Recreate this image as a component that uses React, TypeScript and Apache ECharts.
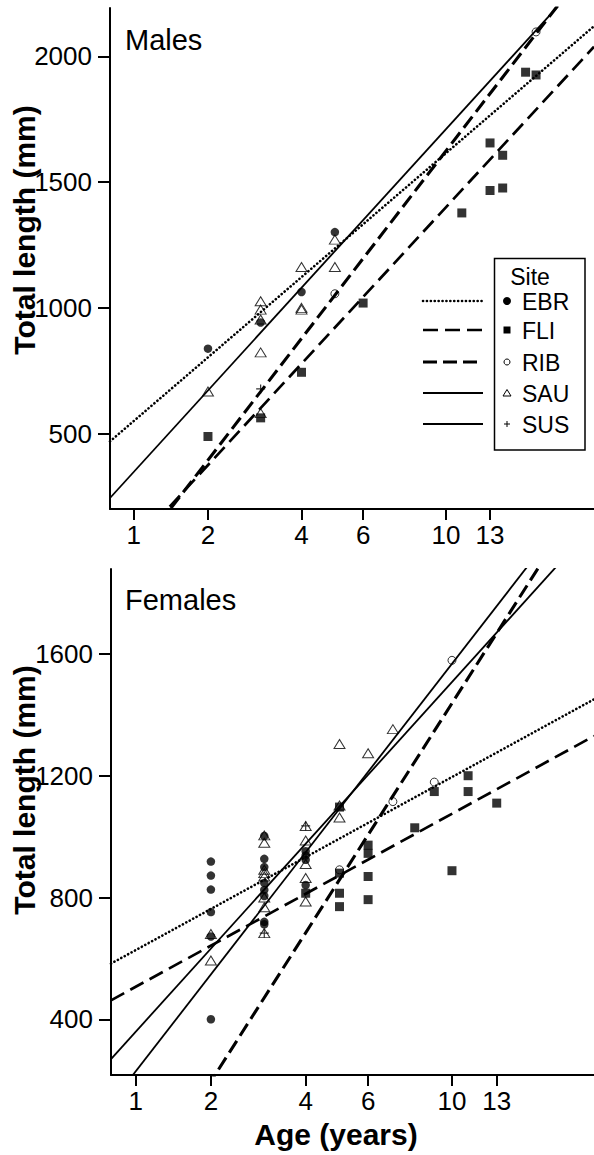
import React, { useEffect, useRef } from "react";
import * as echarts from "echarts";

// ---------- data ----------
const sites = ["EBR", "FLI", "RIB", "SAU", "SUS"];
const tickAges = [1, 2, 4, 6, 10, 13];
const maleYTicks = [500, 1000, 1500, 2000];
const femaleYTicks = [400, 800, 1200, 1600];

// Males: [age (years), total length (mm)]
const maleEBR = [[2, 839], [3, 943], [4, 1064], [5, 1302]];
const maleFLI = [[2, 490], [3, 564], [4, 745], [6, 1020], [11, 1378], [13, 1656], [13, 1467], [14, 1607], [14, 1477], [16, 1937], [17, 1926]];
const maleRIB = [[5, 1057], [17, 2097]];
const maleSAU = [[2, 669], [3, 1027], [3, 994], [3, 955], [3, 824], [3, 583], [4, 1163], [4, 1001], [4, 994], [5, 1272], [5, 1163]];
const maleSUS = [[3, 679]];

// Females: [age (years), total length (mm)]
const femaleEBR = [[2, 918], [2, 872], [2, 826], [2, 752], [2, 672], [2, 400], [3, 1002], [3, 927], [3, 900], [3, 848], [3, 825], [3, 805], [3, 720], [3, 712], [4, 952], [4, 938], [4, 924], [4, 841]];
const femaleFLI = [[4, 814], [5, 1097], [5, 880], [5, 814], [5, 770], [6, 972], [6, 945], [6, 869], [6, 793], [8, 1029], [9, 1148], [10, 888], [11, 1200], [11, 1148], [13, 1110]];
const femaleRIB = [[5, 891], [7, 1115], [9, 1179], [10, 1579]];
const femaleSAU = [[2, 680], [2, 593], [3, 1004], [3, 980], [3, 891], [3, 880], [3, 869], [3, 800], [3, 768], [3, 683], [4, 1035], [4, 987], [4, 910], [4, 864], [4, 787], [5, 1304], [5, 1102], [5, 1063], [6, 1274], [7, 1353]];
const femaleSUS = [[3, 683], [4, 1035]];

// fitted lines: TL = intercept + slope * log10(age + 1)
const maleFitSites = ["EBR", "FLI", "RIB", "SAU"];
const maleFitIntercept = [118.9, -489.7, -641.9, -204.3];
const maleFitSlope = [1436.7, 1815, 2176, 1838.4];
const femaleFitSites = ["EBR", "FLI", "RIB", "SAU", "SUS"];
const femaleFitIntercept = [396, 275.5, -854.2, -108.2, -315.7];
const femaleFitSlope = [767.9, 767.8, 2201, 1551.7, 1808.7];

// ---------- styles ----------
const FONT = "'Liberation Sans', Arial, Helvetica, sans-serif";
const lineStyleOf: Record<string, any> = {
  EBR: { width: 2.6, type: [0.1, 3.8], cap: "round" },
  FLI: { width: 2.7, type: [15, 7], cap: "butt" },
  RIB: { width: 3.1, type: [14, 6], cap: "butt" },
  SAU: { width: 1.8, type: "solid", cap: "butt" },
  SUS: { width: 1.8, type: "solid", cap: "butt" },
};
const symbolOf: Record<string, any> = {
  EBR: { symbol: "circle", symbolSize: 8.5, itemStyle: { color: "#000" } },
  FLI: { symbol: "rect", symbolSize: 9, itemStyle: { color: "#000" } },
  RIB: { symbol: "circle", symbolSize: 8, itemStyle: { color: "rgba(0,0,0,0)", borderColor: "#000", borderWidth: 1 } },
  SAU: { symbol: "triangle", symbolSize: [11, 9], itemStyle: { color: "rgba(0,0,0,0)", borderColor: "#000", borderWidth: 1 } },
  SUS: { symbol: "path://M0,5L10,5M5,0L5,10", symbolSize: 9, itemStyle: { color: "rgba(0,0,0,0)", borderColor: "#000", borderWidth: 1.2 } },
};

const panels = [
  {
    label: "Males",
    grid: { left: 110, top: 8, width: 484, height: 501 },
    xMin: 1.757, xMax: 24.7, yMin: 202, yMax: 2192,
    yTicks: maleYTicks,
    points: [maleEBR, maleFLI, maleRIB, maleSAU, maleSUS],
    fitSites: maleFitSites, fitA: maleFitIntercept, fitB: maleFitSlope,
  },
  {
    label: "Females",
    grid: { left: 111, top: 569, width: 483, height: 506 },
    xMin: 1.751, xMax: 23.65, yMin: 217, yMax: 1879,
    yTicks: femaleYTicks,
    points: [femaleEBR, femaleFLI, femaleRIB, femaleSAU, femaleSUS],
    fitSites: femaleFitSites, fitA: femaleFitIntercept, fitB: femaleFitSlope,
  },
];

function buildOption() {
  const grid: any[] = [];
  const xAxis: any[] = [];
  const yAxis: any[] = [];
  const series: any[] = [];

  panels.forEach((p, gi) => {
    grid.push({ ...p.grid, containLabel: false });
    xAxis.push({
      type: "log",
      logBase: 10,
      gridIndex: gi,
      min: p.xMin,
      max: p.xMax,
      axisLine: { show: true, onZero: false, lineStyle: { color: "#000", width: 2 } },
      axisTick: { show: true, length: 11, customValues: tickAges.map((a) => a + 1), lineStyle: { color: "#000", width: 2 } },
      axisLabel: {
        show: true,
        customValues: tickAges.map((a) => a + 1),
        formatter: (v: number) => String(Math.round(v - 1)),
        color: "#000",
        fontSize: 26,
        fontFamily: FONT,
        margin: 13,
      },
      splitLine: { show: false },
      minorTick: { show: false },
    });
    yAxis.push({
      type: "value",
      gridIndex: gi,
      min: p.yMin,
      max: p.yMax,
      axisLine: { show: true, onZero: false, lineStyle: { color: "#000", width: 2 } },
      axisTick: { show: true, length: 12, customValues: p.yTicks, lineStyle: { color: "#000", width: 2 } },
      axisLabel: {
        show: true,
        customValues: p.yTicks,
        formatter: (v: number) => String(Math.round(v)),
        color: "#000",
        fontSize: 26,
        fontFamily: FONT,
        margin: 18,
      },
      splitLine: { show: false },
    });

    // fitted lines
    p.fitSites.forEach((s, i) => {
      const ls = lineStyleOf[s];
      const xs = [p.xMin, p.xMax];
      series.push({
        type: "line",
        name: s + " fit",
        xAxisIndex: gi,
        yAxisIndex: gi,
        data: xs.map((x) => [x, p.fitA[i] + p.fitB[i] * Math.log10(x)]),
        showSymbol: false,
        symbol: "none",
        clip: true,
        silent: true,
        z: 2,
        lineStyle: { color: "#000", width: ls.width, type: ls.type, cap: ls.cap },
      });
    });

    // points
    sites.forEach((s, i) => {
      const sym = symbolOf[s];
      series.push({
        type: "scatter",
        name: s,
        xAxisIndex: gi,
        yAxisIndex: gi,
        data: p.points[i].map((d) => [d[0] + 1, d[1]]),
        symbol: sym.symbol,
        symbolSize: sym.symbolSize,
        itemStyle: sym.itemStyle,
        clip: true,
        silent: true,
        z: 3,
      });
    });
  });

  // ---------- graphic: titles, panel labels, legend ----------
  const graphic: any[] = [];
  graphic.push({
    type: "text", x: 125, y: 40,
    style: { text: "Males", font: `29px ${FONT}`, fill: "#000", textAlign: "left", textVerticalAlign: "middle" },
  });
  graphic.push({
    type: "text", x: 125, y: 600,
    style: { text: "Females", font: `29px ${FONT}`, fill: "#000", textAlign: "left", textVerticalAlign: "middle" },
  });
  graphic.push({
    type: "text", x: 24, y: 230, rotation: Math.PI / 2,
    style: { text: "Total length (mm)", font: `bold 30px ${FONT}`, fill: "#000", textAlign: "center", textVerticalAlign: "middle" },
  });
  graphic.push({
    type: "text", x: 24, y: 790, rotation: Math.PI / 2,
    style: { text: "Total length (mm)", font: `bold 30px ${FONT}`, fill: "#000", textAlign: "center", textVerticalAlign: "middle" },
  });
  graphic.push({
    type: "text", x: 336, y: 1134,
    style: { text: "Age (years)", font: `bold 30px ${FONT}`, fill: "#000", textAlign: "center", textVerticalAlign: "middle" },
  });

  // legend
  const rowY = [301, 330, 362, 393, 424];
  graphic.push({
    type: "rect",
    shape: { x: 494.5, y: 258.5, width: 90.5, height: 191.5 },
    style: { fill: "#fff", stroke: "#000", lineWidth: 1.5 },
    z: 10,
  });
  graphic.push({
    type: "text", x: 530, y: 277, z: 11,
    style: { text: "Site", font: `23px ${FONT}`, fill: "#000", textAlign: "center", textVerticalAlign: "middle" },
  });
  sites.forEach((s, i) => {
    const y = rowY[i];
    const ls = lineStyleOf[s];
    graphic.push({
      type: "line", z: 11,
      shape: { x1: 423, y1: y, x2: 483, y2: y },
      style: {
        stroke: "#000", lineWidth: ls.width,
        lineDash: Array.isArray(ls.type) ? ls.type : null,
        lineCap: ls.cap,
      },
    });
    let marker: any;
    if (s === "EBR") marker = { type: "circle", shape: { cx: 507, cy: y, r: 4 }, style: { fill: "#000" } };
    else if (s === "FLI") marker = { type: "rect", shape: { x: 503.5, y: y - 3.5, width: 7, height: 7 }, style: { fill: "#000" } };
    else if (s === "RIB") marker = { type: "circle", shape: { cx: 507, cy: y, r: 3 }, style: { fill: "none", stroke: "#000", lineWidth: 1 } };
    else if (s === "SAU") marker = { type: "polygon", shape: { points: [[507, y - 3.5], [511, y + 3], [503, y + 3]] }, style: { fill: "none", stroke: "#000", lineWidth: 1 } };
    else marker = { type: "polyline", shape: { points: [[504, y], [510, y]] }, style: { stroke: "#000", lineWidth: 1 } };
    marker.z = 11;
    graphic.push(marker);
    if (s === "SUS") {
      graphic.push({ type: "line", z: 11, shape: { x1: 507, y1: y - 3, x2: 507, y2: y + 3 }, style: { stroke: "#000", lineWidth: 1 } });
    }
    graphic.push({
      type: "text", x: 522, y: y + 1, z: 11,
      style: { text: s, font: `23px ${FONT}`, fill: "#000", textAlign: "left", textVerticalAlign: "middle" },
    });
  });

  return {
    animation: false,
    backgroundColor: "#fff",
    grid,
    xAxis,
    yAxis,
    series,
    graphic,
  };
}

export default function App() {
  const ref = useRef<HTMLDivElement>(null);
  useEffect(() => {
    if (!ref.current) return;
    const chart = echarts.init(ref.current, undefined, { renderer: "svg" });
    chart.setOption(buildOption() as any);
    return () => chart.dispose();
  }, []);
  return (
    <div
      ref={ref}
      style={{ position: "absolute", left: 0, top: 0, width: 594, height: 1155, background: "#fff" }}
    />
  );
}
